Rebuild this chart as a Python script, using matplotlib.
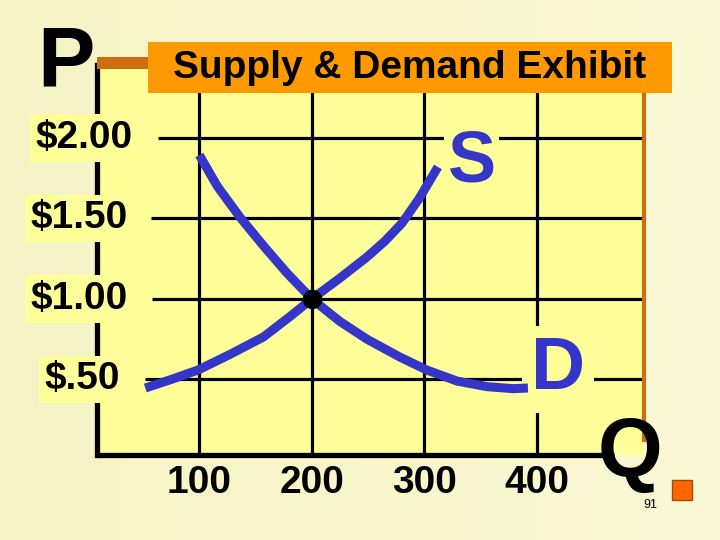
import numpy as np
import matplotlib.pyplot as plt
from matplotlib.patches import Rectangle
from matplotlib.colors import LinearSegmentedColormap

plt.rcParams['font.family'] = ['Liberation Sans', 'DejaVu Sans']

# price ticks and quantity ticks
prices = [2.0, 1.5, 1.0, 0.5]
price_labels = ["$2.00", "$1.50", "$1.00", "$.50"]
quantities = [100, 200, 300, 400]
qty_labels = ["100", "200", "300", "400"]

# demand curve
d_q = [100, 116, 136, 157, 178, 200, 225, 249, 278, 302, 329, 356, 379, 392]
d_p = [1.894, 1.70, 1.509, 1.33, 1.16, 1.0, 0.86, 0.75, 0.64, 0.559,
       0.49, 0.455, 0.443, 0.447]
# supply curve
s_q = [52, 75, 99, 127, 157, 180, 200, 225, 249, 265, 280, 295, 312]
s_p = [0.447, 0.50, 0.559, 0.655, 0.764, 0.888, 1.0, 1.13, 1.261, 1.36, 1.47,
       1.62, 1.82]
# equilibrium
eq_q, eq_p = 200, 1.0

blue = '#3535C8'
yellow = '#FFFF99'
orange = '#FF9900'
brown = '#CC6E10'

W, H = 720, 540
fig = plt.figure(figsize=(7.2, 5.4), dpi=100)

# background
bg = fig.add_axes([0, 0, 1, 1], zorder=0)
grad = np.linspace(0, 1, 256)[None, :]
cm = LinearSegmentedColormap.from_list('bg', ['#F6F3C6', '#F9F6CC', '#FBF9D6'])
bg.imshow(grad, aspect='auto', cmap=cm, extent=[0, 1, 0, 1])
bg.set_axis_off()

# main plot area, pixels x 97..644, y 65..455
L, R, T, B = 97, 644, 65, 455
ax = fig.add_axes([L / W, 1 - B / H, (R - L) / W, (B - T) / H], zorder=1)
ax.set_facecolor(yellow)
ax.set_xlim(9.1, 495.1)
ax.set_ylim(0.031, 2.453)
for s in ax.spines.values():
    s.set_visible(False)
ax.set_xticks([])
ax.set_yticks([])

# grid lines
hstart = [63, 57, 58, 52]
for p, x0 in zip(prices, hstart):
    ax.plot([x0, 495.1], [p, p], color='black', lw=2.3, zorder=2, solid_capstyle='butt')
for q in quantities:
    ax.plot([q, q], [0.031, 2.453], color='black', lw=2.3, zorder=2, solid_capstyle='butt')

# axes lines
ax.plot([0, 0], [0, 1], transform=ax.transAxes, color='black', lw=3.8, zorder=3, clip_on=False)
ax.plot([0, 0.945], [0, 0], transform=ax.transAxes, color='black', lw=3.8, zorder=3,
        clip_on=False, solid_capstyle='butt')
ax.plot([1, 1], [(B - 440) / (B - T), 1], transform=ax.transAxes, color=brown, lw=3,
        zorder=3, clip_on=False)

# curves
ax.plot(d_q, d_p, color=blue, lw=6.5, zorder=6, solid_capstyle='butt', solid_joinstyle='round')
ax.plot(s_q, s_p, color=blue, lw=6.5, zorder=6, solid_capstyle='butt', solid_joinstyle='round')
ax.plot([eq_q], [eq_p], 'o', color='black', ms=13, zorder=7)

# curve labels
ax.text(342, 1.845, "S", color=blue, fontsize=52, fontweight='bold', ha='center', va='center',
        zorder=5, bbox=dict(boxstyle='square,pad=0.05', fc=yellow, ec='none'))
ax.text(419, 0.559, "D", color=blue, fontsize=54, fontweight='bold', ha='center', va='center',
        zorder=5, bbox=dict(boxstyle='square,pad=0.12', fc=yellow, ec='none'))

# price labels
lab_x = [133, 128, 128, 120]
for p, t, px in zip(prices, price_labels, lab_x):
    ax.text((px - L) / (R - L), p, t, transform=ax.get_yaxis_transform(), fontsize=28,
            fontweight='bold', ha='right', va='center', zorder=5, clip_on=False,
            bbox=dict(boxstyle='square,pad=0.15', fc=yellow, ec='none'))

# quantity labels
for q, t in zip(quantities, qty_labels):
    ax.text(q, -0.14, t, fontsize=28, fontweight='bold', ha='center', va='center',
            clip_on=False, zorder=5)

# overlay in pixel coordinates
ov = fig.add_axes([0, 0, 1, 1], zorder=2)
ov.set_xlim(0, W)
ov.set_ylim(H, 0)
ov.set_axis_off()
ov.patch.set_alpha(0)

ov.add_patch(Rectangle((97, 57), 55, 12, fc=brown, ec='none'))
ov.add_patch(Rectangle((148, 42), 524, 51, fc=orange, ec='none'))
ov.text(410, 68, "Supply & Demand Exhibit", fontsize=28, fontweight='bold', ha='center', va='center')
ov.text(66, 64, "P", fontsize=62, fontweight='bold', ha='center', va='center')
ov.text(630, 455, "Q", fontsize=60, fontweight='bold', ha='center', va='center')
ov.add_patch(Rectangle((672, 480), 20, 20, fc='#FF6600', ec='#9A4A10', lw=1))
ov.text(650, 505, "91", fontsize=9, ha='center', va='center')

fig.savefig('out.png', dpi=100)
